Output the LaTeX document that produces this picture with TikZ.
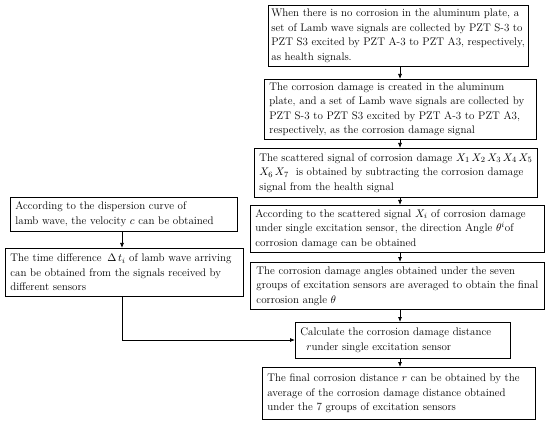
\documentclass[tikz,border=0pt]{standalone}
\usetikzlibrary{arrows.meta}
\begin{document}
\begin{tikzpicture}[x=1pt,y=-1pt,
  box/.style={draw, line width=0.75pt, anchor=north west, inner xsep=3pt, inner ysep=1pt, align=left,
    font=\fontsize{11}{14.5}\selectfont},
  arr/.style={-{Latex[length=5pt,width=4pt]}, line width=0.75pt}]
\useasboundingbox (0,0) rectangle (550,428);
\newcommand{\bx}[6]{\node[box, minimum width=#4-#2, minimum height=#5-#3] (#1) at (#2,#3) {#6};}
\newcommand{\bxl}[6]{\node[box, minimum width=#4-#2, minimum height=#5-#3, text width=#4-#2-10, inner xsep=5pt] (#1) at (#2,#3) {#6};}
\bx{b1}{268}{5}{525}{66}{When there is no corrosion in the aluminum plate, a\\set of Lamb wave signals are collected by PZT S-3 to\\PZT S3 excited by PZT A-3 to PZT A3, respectively,\\as health signals.}
\bxl{b2}{264}{79}{536}{139}{The corrosion damage is created in the aluminum\\plate, and a set of Lamb wave signals are collected by\\PZT S-3 to PZT S3 excited by PZT A-3 to PZT A3,\\respectively, as the corrosion damage signal}
\bx{b3}{254}{148}{537}{197}{The scattered signal of corrosion damage $X_1\,X_2\,X_3\,X_4\,X_5$\\$X_6\,X_7$\ \ is obtained by subtracting the corrosion damage\\signal from the health signal}
\bxl{b4}{250}{205}{544}{252}{According to the scattered signal $X_i$ of corrosion damage\\under single excitation sensor, the direction Angle $\theta^{i}$of\\corrosion damage can be obtained}
\bx{b5}{250}{262}{544}{309}{The corrosion damage angles obtained under the seven\\groups of excitation sensors are averaged to obtain the final\\corrosion angle $\theta$}
\bxl{b6}{295}{322}{510}{358}{Calculate the corrosion damage distance\\\hspace*{6pt}$r$under single excitation sensor}
\bxl{b7}{262}{367}{535}{419}{The final corrosion distance $r$ can be obtained by the\\average of the corrosion damage distance obtained\\under the 7 groups of excitation sensors}
\bxl{l1}{10}{197}{237}{231}{According to the dispersion curve of\\lamb wave, the velocity $c$ can be obtained}
\bxl{l2}{5}{248}{243}{296}{The time difference \,$\Delta\, t_i$ of lamb wave arriving\\can be obtained from the signals received by\\different sensors}
\coordinate (ax) at (400,0);
\coordinate (lx) at (122,0);
\coordinate (corner) at (122,340);
\draw[arr] (b1.south -| ax) -- (b2.north -| ax);
\draw[arr] (b2.south -| ax) -- (b3.north -| ax);
\draw[arr] (b3.south -| ax) -- (b4.north -| ax);
\draw[arr] (b4.south -| ax) -- (b5.north -| ax);
\draw[arr] (b5.south -| ax) -- (b6.north -| ax);
\draw[arr] (b6.south -| ax) -- (b7.north -| ax);
\draw[arr] (l1.south -| lx) -- (l2.north -| lx);
\draw[arr] (l2.south -| lx) -- (corner) -- (b6.west |- corner);
\end{tikzpicture}
\end{document}
